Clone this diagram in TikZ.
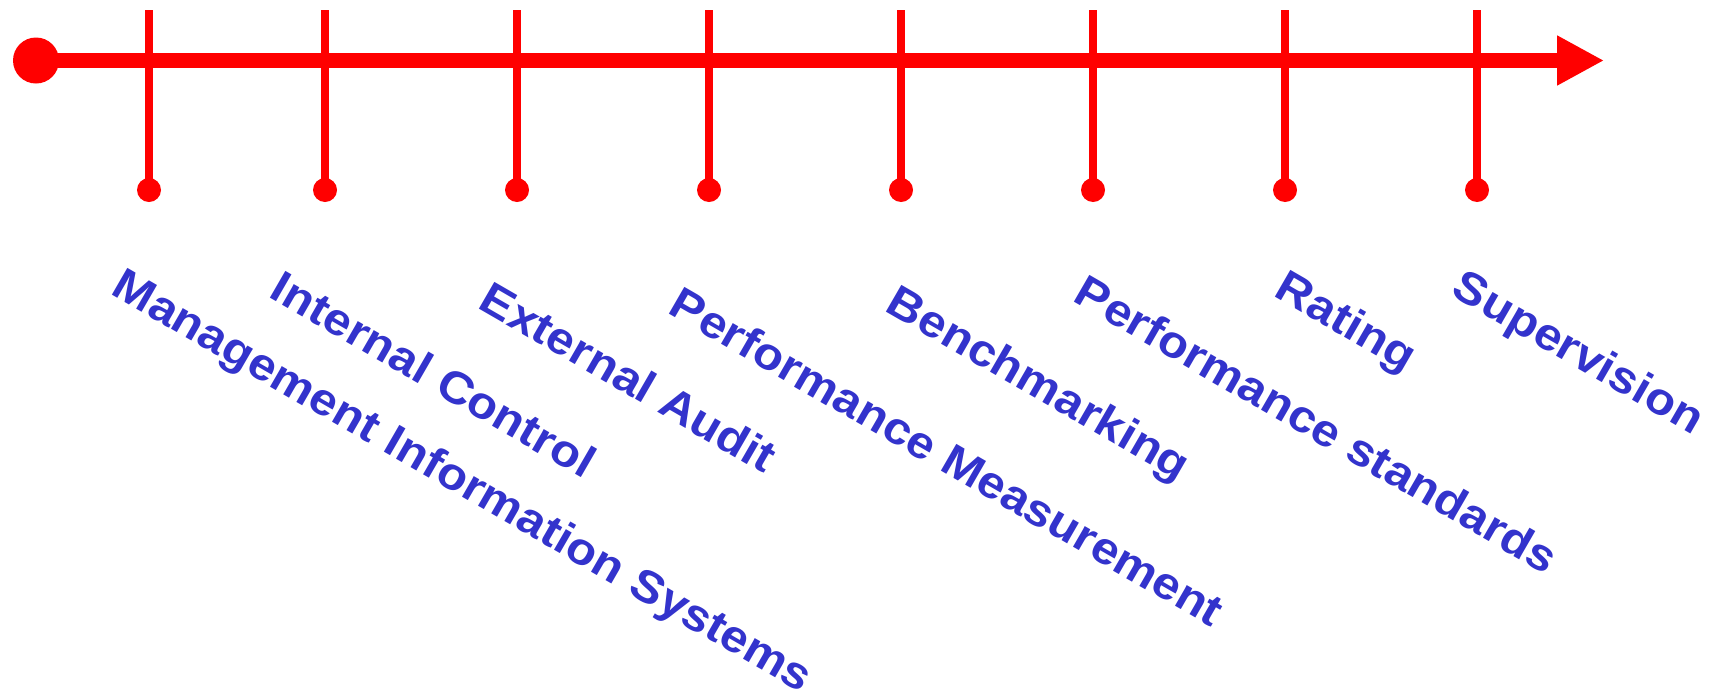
\documentclass[tikz,border=0pt]{standalone}
\usepackage{fontspec}
\newfontfamily\labfont[FakeStretch=1.09]{Liberation Sans}
\usetikzlibrary{arrows.meta}
\definecolor{tred}{RGB}{255,0,0}
\definecolor{tblue}{RGB}{51,51,204}
\begin{document}
\begin{tikzpicture}[x=0.5pt,y=-0.5pt,
  axisline/.style={draw=tred, line width=7.5pt, -{Triangle[length=23.5pt,width=23.5pt]}},
  tickline/.style={draw=tred, line width=4pt},
  enddot/.style={circle, fill=tred, minimum size=12pt, inner sep=0pt},
  startdot/.style={circle, fill=tred, minimum size=23pt, inner sep=0pt},
  lab/.style={anchor=north west, rotate=-30, inner sep=0pt, text=tblue,
    font=\labfont\bfseries\fontsize{22.5pt}{27pt}\selectfont}]
\useasboundingbox (0,0) rectangle (1711,691);
\node[startdot] (start) at (36,60.5) {};
\coordinate (axend) at (1604,60.5);
\draw[axisline] (start.center) -- (axend);
\foreach \x [count=\i] in {149,325,517,709,901,1093,1285,1477}{
  \coordinate (t\i) at (\x,10);
  \node[enddot] (d\i) at (\x,190) {};
  \draw[tickline] (t\i) -- (d\i.center);
}
\node[lab] (l1) at (126,265) {Management Information Systems};
\node[lab] (l2) at (284,268) {Internal Control};
\node[lab] (l3) at (493,279) {External Audit};
\node[lab] (l4) at (683,284) {Performance Measurement};
\node[lab] (l5) at (900,282) {Benchmarking};
\node[lab] (l6) at (1088,272) {Performance standards};
\node[lab] (l7) at (1289,267) {Rating};
\node[lab] (l8) at (1466,266) {Supervision};
\end{tikzpicture}
\end{document}
